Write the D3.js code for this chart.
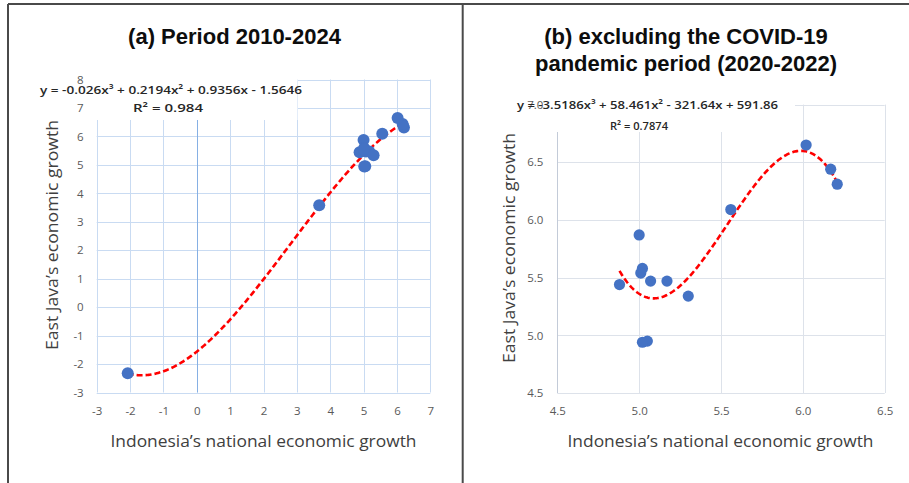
<!DOCTYPE html>
<html>
<head>
<meta charset="utf-8">
<script src="https://cdn.jsdelivr.net/npm/d3@7/dist/d3.min.js"></script>
<style>
  html, body { margin: 0; padding: 0; background: #fff; }
  svg { display: block; }
</style>
</head>
<body>
<svg id="chart" width="909" height="483"></svg>
<script>
// Annual economic growth (%), 2010–2024
const years          = [2010, 2011, 2012, 2013, 2014, 2015, 2016, 2017, 2018, 2019, 2020, 2021, 2022, 2023, 2024];
const nationalGrowth = [6.21, 6.17, 6.02, 5.56, 5.00, 4.88, 5.02, 5.07, 5.17, 5.01, -2.07, 3.67, 5.30, 5.05, 5.02];
const eastJavaGrowth = [6.31, 6.44, 6.65, 6.09, 5.87, 5.44, 5.58, 5.47, 5.47, 5.54, -2.32, 3.58, 5.34, 4.95, 4.94];

// Years left out of panel (b)
const pandemicYears = [2020, 2021];

// Cubic trendline coefficients [x³, x², x, 1] as reported for each fit
const fitAll      = [-0.026, 0.2194, 0.9356, -1.5646];
const fitAllR2    = 0.984;
const fitNoCovid  = [-3.5186, 58.461, -321.64, 591.86];
const fitNoCovidR2 = 0.7874;

// Axis ticks
const ticksAX = [-3, -2, -1, 0, 1, 2, 3, 4, 5, 6, 7];
const ticksAY = [-3, -2, -1, 0, 1, 2, 3, 4, 5, 6, 7, 8];
const ticksBX = [4.5, 5.0, 5.5, 6.0, 6.5];
const ticksBY = [4.5, 5.0, 5.5, 6.0, 6.5, 7.0];

const titleA  = "(a) Period 2010-2024";
const titleB  = ["(b) excluding the COVID-19", "pandemic period (2020-2022)"];
const xTitle  = "Indonesia\u2019s national economic growth";
const yTitle  = "East Java\u2019s economic growth";

const svg = d3.select("#chart");
const TXT = "#595959";
const FONT = "'Open Sans', 'Noto Sans', sans-serif";

const all = years.map((y, i) => ({ year: y, x: nationalGrowth[i], y: eastJavaGrowth[i] }));
const noCovid = all.filter(d => !pandemicYears.includes(d.year));

function poly(c) { return x => ((c[0] * x + c[1]) * x + c[2]) * x + c[3]; }
function fmt(v) { return String(Math.abs(v)); }
function equation(c) {
  const s = v => (v < 0 ? " - " : " + ");
  return "y = " + (c[0] < 0 ? "-" : "") + fmt(c[0]) + "x\u00B3" + s(c[1]) + fmt(c[1]) + "x\u00B2" +
         s(c[2]) + fmt(c[2]) + "x" + s(c[3]) + fmt(c[3]);
}

// Frame around the figure and divider between panels
const frame = svg.append("g").attr("stroke", "#4a4a4a").attr("stroke-width", 2).attr("fill", "none");
frame.append("line").attr("x1", 8).attr("x2", 909).attr("y1", 4).attr("y2", 4);
frame.append("line").attr("x1", 8).attr("x2", 8).attr("y1", 4).attr("y2", 483);
frame.append("line").attr("x1", 462.7).attr("x2", 462.7).attr("y1", 4).attr("y2", 483);

function panel(opts) {
  const g = svg.append("g");
  const x = d3.scaleLinear().domain(opts.xDomain).range(opts.xRange);
  const y = d3.scaleLinear().domain(opts.yDomain).range(opts.yRange);
  const [x0, x1] = opts.xRange, [y0, y1] = opts.yRange;

  // gridlines
  const grid = g.append("g").attr("stroke", opts.gridColor).attr("stroke-width", 1);
  grid.selectAll(".vg").data(opts.xTicks).join("line")
    .attr("x1", d => Math.round(x(d)) + 0.5).attr("x2", d => Math.round(x(d)) + 0.5)
    .attr("y1", y1).attr("y2", y0);
  grid.selectAll(".hg").data(opts.yTicks).join("line")
    .attr("y1", d => Math.round(y(d)) + 0.5).attr("y2", d => Math.round(y(d)) + 0.5)
    .attr("x1", x0).attr("x2", x1);

  // vertical value axis line
  g.append("line")
    .attr("x1", Math.round(x(opts.axisAt)) + 0.5).attr("x2", Math.round(x(opts.axisAt)) + 0.5)
    .attr("y1", y1).attr("y2", y0)
    .style("stroke", opts.axisColor).style("stroke-width", "1px");

  // white box behind the trendline label
  g.append("rect")
    .attr("x", x0 - 1).attr("y", y1 - 1)
    .attr("width", opts.labelBox[0] - x0 + 1).attr("height", opts.labelBox[1] - y1 + 1)
    .attr("fill", "#fff");

  // tick labels through d3 axes
  const xAxis = g.append("g").attr("transform", `translate(0,${y0})`)
    .call(d3.axisBottom(x).tickValues(opts.xTicks).tickSize(0).tickPadding(14).tickFormat(opts.tickFmt));
  const yAxis = g.append("g").attr("transform", `translate(${x0},0)`)
    .call(d3.axisLeft(y).tickValues(opts.yTicks).tickSize(0).tickPadding(opts.yPad).tickFormat(opts.tickFmt));
  [xAxis, yAxis].forEach(a => {
    a.select(".domain").remove();
    a.selectAll("text").attr("fill", TXT).style("font-family", FONT).style("font-size", "11.5px");
  });

  // trendline
  const f = poly(opts.fit);
  const [lo, hi] = d3.extent(opts.data, d => d.x);
  const pts = d3.range(0, 201).map(i => lo + (hi - lo) * i / 200);
  g.append("path")
    .datum(pts)
    .attr("d", d3.line().x(d => x(d)).y(d => y(f(d))))
    .attr("fill", "none").attr("stroke", "#ff0000").attr("stroke-width", 2.6)
    .attr("stroke-dasharray", "6,3");

  // points
  g.append("g").selectAll("circle").data(opts.data).join("circle")
    .attr("cx", d => x(d.x)).attr("cy", d => y(d.y)).attr("r", opts.r)
    .attr("fill", "#4472c4");

  // trendline equation and R²
  g.append("text").text(equation(opts.fit))
    .attr("x", opts.eqPos[0]).attr("y", opts.eqPos[1]).attr("dy", "0.35em")
    .attr("textLength", opts.eqPos[2]).attr("lengthAdjust", "spacingAndGlyphs")
    .attr("fill", "#262626").style("font-family", FONT).style("font-size", "11.5px").style("font-weight", 600);
  g.append("text").text("R\u00B2 = " + opts.r2)
    .attr("x", opts.r2Pos[0]).attr("y", opts.r2Pos[1]).attr("dy", "0.35em")
    .attr("textLength", opts.r2Pos[2]).attr("lengthAdjust", "spacingAndGlyphs")
    .attr("fill", "#262626").style("font-family", FONT).style("font-size", "11.5px").style("font-weight", 600);

  // axis titles
  g.append("text").text(xTitle)
    .attr("x", opts.xTitlePos[0]).attr("y", opts.xTitlePos[1]).attr("dy", "0.35em")
    .attr("text-anchor", "middle").attr("textLength", 306).attr("lengthAdjust", "spacingAndGlyphs")
    .attr("fill", "#404040").style("font-family", FONT).style("font-size", "15.5px");
  g.append("text").text(yTitle)
    .attr("transform", `translate(${opts.yTitlePos[0]},${opts.yTitlePos[1]}) rotate(-90)`)
    .attr("dy", "0.35em").attr("text-anchor", "middle")
    .attr("textLength", 230).attr("lengthAdjust", "spacingAndGlyphs")
    .attr("fill", "#404040").style("font-family", FONT).style("font-size", "15.5px");

  // title
  opts.title.forEach((t, i) => {
    g.append("text").text(t)
      .attr("x", opts.titlePos[0]).attr("y", opts.titlePos[1] + i * 27).attr("dy", "0.35em")
      .attr("text-anchor", "middle")
      .attr("fill", "#0d0d0d").style("font-family", "'Liberation Sans', Arial, sans-serif")
      .style("font-size", "22px").style("font-weight", "bold");
  });
}

const plainNum = d => String(d);

panel({
  data: all,
  xDomain: [-3, 7], xRange: [96.7, 430.3],
  yDomain: [-3, 8], yRange: [392.5, 79.5],
  xTicks: ticksAX, yTicks: ticksAY,
  tickFmt: plainNum,
  yPad: 13,
  axisAt: 0,
  gridColor: "#c9dbf2", axisColor: "#86b0e4",
  labelBox: [297.5, 120],
  fit: fitAll, r2: fitAllR2, r: 6,
  eqPos: [40, 90, 262], r2Pos: [133, 108, 70],
  xTitlePos: [263.5, 442], yTitlePos: [53, 235],
  title: [titleA], titlePos: [234.5, 36]
});

panel({
  data: noCovid,
  xDomain: [4.5, 6.5], xRange: [557.3, 884.7],
  yDomain: [4.5, 7.0], yRange: [393, 104.6],
  xTicks: ticksBX, yTicks: ticksBY,
  tickFmt: d3.format(".1f"),
  yPad: 14,
  axisAt: 4.5,
  gridColor: "#dde2ea", axisColor: "#c3cbd8",
  labelBox: [795, 132],
  fit: fitNoCovid, r2: fitNoCovidR2, r: 5.6,
  eqPos: [517, 105, 261], r2Pos: [610, 126, 58],
  xTitlePos: [720.5, 442], yTitlePos: [510, 248],
  title: titleB, titlePos: [686, 36]
});
</script>
</body>
</html>
